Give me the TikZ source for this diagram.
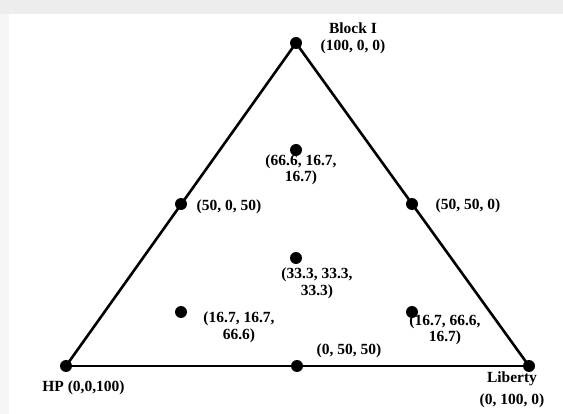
\documentclass[tikz,border=0pt]{standalone}
\usepackage{fontspec}
\setmainfont{Liberation Serif}
\begin{document}
\begin{tikzpicture}[x=1pt,y=-1pt,
  vertex/.style={circle,fill=black,inner sep=0pt,minimum size=12pt},
  side/.style={line width=2.6pt},
  lbl/.style={font=\fontsize{15.5}{16.5}\selectfont\bfseries,align=center,inner sep=0pt}]
  % page and background bands
  \useasboundingbox (0,0) rectangle (563,414);
  \fill[white] (0,0) rectangle (563,414);
  \fill[black!4] (0,0) rectangle (9,414);
  \fill[black!7] (0,0) rectangle (563,14);

  % corner and sample points of the simplex
  \node[vertex] (top) at (296,43) {};
  \node[vertex] (left) at (66,366) {};
  \node[vertex] (right) at (529,366) {};
  \node[vertex] (mleft) at (181,204) {};
  \node[vertex] (mright) at (412,204) {};
  \node[vertex] (mbottom) at (297,366) {};
  \node[vertex] (pA) at (296,150) {};
  \node[vertex] (pC) at (296,258) {};
  \node[vertex] (pHP) at (181,312) {};
  \node[vertex] (pLib) at (412,312) {};

  % triangle sides
  \draw[side] (top.center) -- (left.center);
  \draw[side] (left.center) -- (right.center);
  \draw[side] (right.center) -- (top.center);

  % point labels
  \node[lbl] (ltop) at (353,38.5) {Block I\\(100, 0, 0)};
  \node[lbl] (lA) at (301,170) {(66.6, 16.7,\\16.7)};
  \node[lbl] (lml) at (229,207) {(50, 0, 50)};
  \node[lbl] (lmr) at (468,206) {(50, 50, 0)};
  \node[lbl] (lC) at (317,283.5) {(33.3, 33.3,\\33.3)};
  \node[lbl] (lHP) at (239,327.5) {(16.7, 16.7,\\66.6)};
  \node[lbl] (lLib) at (445,330) {(16.7, 66.6,\\16.7)};
  \node[lbl] (lmb) at (349,351) {(0, 50, 50)};
  \node[lbl] (lleft) at (83.5,387.5) {HP (0,0,100)};
  \node[lbl] (lright) at (512,390) {Liberty\\[5pt](0, 100, 0)};
\end{tikzpicture}
\end{document}
